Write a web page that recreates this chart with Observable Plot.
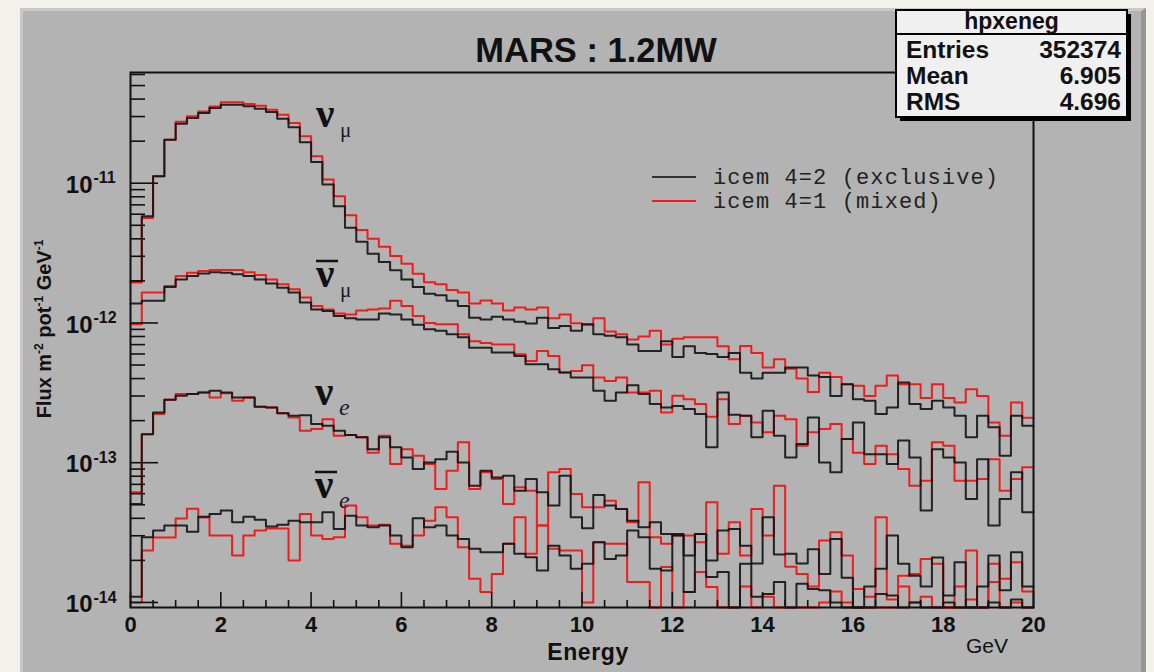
<!DOCTYPE html>
<html>
<head>
<meta charset="utf-8">
<script src="https://cdn.jsdelivr.net/npm/d3@7"></script>
<script src="https://cdn.jsdelivr.net/npm/@observablehq/plot@0.6"></script>
<style>
  html, body { margin: 0; padding: 0; background: #f4f1ec; }
  #page { position: relative; width: 1154px; height: 672px; overflow: hidden; }
  #panel {
    position: absolute; left: 20px; top: 8px; width: 1126px; height: 664px;
    background: #b3b3b3; box-sizing: border-box;
    border-left: 3px solid #c9c9c9; border-top: 3px solid #c9c9c9; border-right: 5px solid #959595;
  }
  #page svg { position: absolute; left: 0; top: 0; }
</style>
</head>
<body>
<div id="page"><div id="panel"></div></div>
<script>
// Energy binning of the histograms: 80 bins of 0.25 GeV from 0 to 20 GeV
const binWidth = 0.25;

// Flux per bin, in units of 1e-14 m^-2 pot^-1 GeV^-1 (0 = empty bin)
const numuExclusive = [200, 581, 1122, 2051, 2669, 2929, 3179, 3452, 3648, 3648, 3548, 3415, 3233, 2899, 2512, 1963, 1420, 978, 685, 480, 381, 313, 273, 238, 205, 181, 162,
  158, 144, 132, 109, 106, 111, 106, 102, 99, 109, 92, 95, 88, 98, 83, 81, 79, 70, 63, 63, 74, 57, 68, 61, 60, 57,
  61, 44, 40, 44, 44, 48, 48, 42, 41, 30, 36.5, 28.5, 27.7, 22.3, 24.8, 37.5, 26.3, 24.2, 27.7, 24.8, 21.7, 15.2, 21.7, 17.9, 11.2, 21.7, 18.4];
const numuMixed = [195, 565, 1122, 2051, 2750, 3010, 3260, 3540, 3791, 3791, 3689, 3589, 3361, 3096, 2698, 2166, 1560, 1062, 807, 591, 462, 400, 351, 301, 265, 225, 196,
  189, 172, 165, 138, 145, 138, 123, 129, 125, 129, 108, 115, 99.5, 97, 108, 87, 83, 76, 80, 88, 70, 77, 79, 79, 79, 68,
  55, 68.5, 61, 48, 55, 47, 40, 32, 44, 41, 36.5, 35.5, 30, 35.5, 42, 36.5, 36.5, 29, 36.5, 29, 27, 33.6, 30, 19.4, 15.6, 27, 21];

const numubarExclusive = [138, 144, 144, 181, 205, 217, 226, 231, 229, 223, 217, 205, 192, 179, 165, 140, 125, 122, 112, 108, 106, 106, 117, 115, 106, 97, 90,
  88, 83, 79, 66.6, 66.6, 61.4, 61.4, 58.1, 50.7, 50.7, 46.7, 44.2, 40.7, 40.7, 32.7, 27.7, 31.8, 35.9, 31, 26.3, 24.8, 25.5, 24.2, 22.3, 12.9, 31.8,
  22, 21.7, 15.2, 23.5, 15.6, 10.9, 13.6, 21.1, 10.05, 8.53, 14.8, 19.4, 11.5, 11.5, 9.78, 14.4, 10.9, 4.54, 12.5, 10.9, 10.05, 5.5, 10.6, 3.55, 5.5, 8.53, 4.42];
const numubarMixed = [98, 165, 165, 184, 217, 229, 235, 239, 239, 239, 231, 220, 205, 189, 174, 152, 132, 125, 117, 115, 123, 125, 127, 144, 132, 112, 100,
  98, 98, 83, 74, 72, 70, 70, 59.7, 53.5, 63.1, 58.1, 44.2, 45.4, 49.9, 40.7, 38.5, 40.7, 31.8, 31.8, 32.7, 22.9, 30.1, 28.5, 26.3, 21.3, 28.5,
  18.9, 21.7, 19.4, 16.5, 21.7, 20.5, 13.2, 16.5, 17.4, 18.9, 14.8, 11.8, 9.78, 13.2, 11.5, 9.02, 6.85, 7.44, 14.0, 13.2, 7.44, 7.44, 7.65, 10.6, 6.31, 7.65, 9.26];

const nueExclusive = [5.07, 16.0, 22.9, 28.2, 30.1, 31.0, 31.8, 32.7, 31.8, 29.3, 29.3, 25.1, 24.8, 22.6, 21.7, 21.9, 18.9, 18.4, 16.9, 15.8, 15.2, 12.5, 15.2, 12.9, 10.9, 9.02, 10.05,
  10.6, 12.0, 10.05, 6.85, 8.77, 7.85, 8.07, 6.31, 7.65, 6.14, 4.93, 8.07, 4.07, 3.40, 5.88, 4.93, 4.67, 3.85, 3.45, 3.75, 3.09, 3.01, 2.17, 3.09, 2.0, 3.27,
  3.36, 2.55, 1.9, 4.07, 2.2, 2.23, 1.9, 2.4, 1.6, 2.85, 1.5, 0, 1.3, 1.74, 3.01, 1.89, 1.55, 1.3, 2.1, 1.12, 1.94, 0, 1.3, 2.17, 1.22, 2.29, 1.3];
const nueMixed = [6.14, 16.0, 22.3, 28.2, 31.0, 31.0, 31.8, 29.3, 31.4, 27.7, 29.3, 25.1, 24.8, 22.6, 21.1, 16.9, 17.4, 20.5, 15.6, 15.8, 15.2, 11.8, 15.6, 9.78, 12.5, 11.2, 9.78,
  6.49, 8.77, 14.0, 6.49, 8.53, 7.65, 5.07, 6.66, 6.31, 3.55, 8.53, 9.02, 5.98, 4.80, 4.80, 5.35, 4.67, 3.75, 7.24, 2.93, 2.63, 3.01, 3.01, 2.70, 5.21, 2.23,
  3.75, 2.17, 4.67, 3.01, 6.85, 1.8, 1.6, 1.3, 2.77, 3.18, 2.17, 1.25, 1.1, 4.07, 1.05, 1.55, 1.6, 2.05, 1.89, 0, 1.3, 2.35, 0, 1.89, 1.48, 1.94, 1.2];

const nuebarExclusive = [1.1, 2.93, 3.27, 3.55, 3.55, 3.2, 4.1, 4.3, 4.54, 3.75, 4.1, 3.9, 3.5, 3.6, 3.85, 3.75, 3.75, 4.42, 3.36, 4.18, 3.55, 3.45, 3.55, 3.01, 2.48, 4.00, 3.45,
  3.55, 3.01, 2.85, 2.42, 2.29, 2.29, 2.63, 2.23, 2.11, 1.69, 2.55, 2.17, 1.74, 1.89, 2.70, 2.05, 2.17, 3.27, 2.93, 1.74, 1.69, 3.09, 1.19, 3.09, 1.52, 1.65,
  0, 1.89, 1.1, 1.15, 1.40, 0, 1.36, 1.25, 1.22, 1.0, 0, 0, 0, 1.15, 1.12, 0, 1.0, 0, 0, 1.0, 0, 0, 0, 1.0, 0, 1.05, 0];
const nuebarMixed = [1.0, 2.35, 2.91, 2.91, 3.98, 4.69, 4.05, 3.01, 3.01, 2.17, 3.01, 3.27, 3.38, 3.38, 2.0, 4.30, 3.01, 2.85, 2.93, 4.93, 4.07, 3.55, 3.59, 2.63, 2.55, 3.01, 3.85,
  4.80, 4.07, 2.48, 1.48, 1.19, 1.60, 2.63, 4.07, 2.23, 3.55, 2.42, 2.35, 2.35, 1.0, 2.70, 2.63, 2.63, 1.40, 1.40, 0, 1.79, 0, 1.19, 1.65, 1.29, 0,
  0, 1.3, 0, 1.1, 0, 0, 0, 0, 1.0, 1.2, 1.0, 0, 0, 0, 0, 1.3, 1.0, 1.1, 0, 0, 0, 1.05, 0, 1.4, 0, 1.0, 0];

const fluxUnit = 1e-14;

// Axis ticks and labels
const xTickValues = [0, 2, 4, 6, 8, 10, 12, 14, 16, 18, 20];
const yDecades = [1e-14, 1e-13, 1e-12, 1e-11];
const yExponents = ["-14", "-13", "-12", "-11"];

// Histogram series: species x ICEM setting
const series = [
  {species: "numu", sample: "mixed", values: numuMixed},
  {species: "numubar", sample: "mixed", values: numubarMixed},
  {species: "nue", sample: "mixed", values: nueMixed},
  {species: "nuebar", sample: "mixed", values: nuebarMixed},
  {species: "numu", sample: "exclusive", values: numuExclusive},
  {species: "numubar", sample: "exclusive", values: numubarExclusive},
  {species: "nue", sample: "exclusive", values: nueExclusive},
  {species: "nuebar", sample: "exclusive", values: nuebarExclusive}
];

// Vertical range of the pad (log axis)
const yFloor = 9.2e-15, yCeil = 6.2e-11;

// Step outline: one point per bin edge, the last bin closed at 20 GeV.
// Empty bins rest on the frame floor, as ROOT draws them on a log axis.
const rows = [];
for (const s of series) {
  const n = s.values.length;
  for (let i = 0; i <= n; i++) {
    const raw = s.values[Math.min(i, n - 1)];
    rows.push({
      key: s.species + "-" + s.sample,
      sample: s.sample,
      e: i * binWidth,
      flux: raw > 0 ? raw * fluxUnit : yFloor
    });
  }
}

// Minor ticks: every 0.5 GeV, and 2..9 x each decade
const xMinor = d3.range(0, 20.01, 0.5).filter(v => v % 2 !== 0);
const yMinor = [];
for (let k = -15; k <= -11; k++) for (let m = 2; m <= 9; m++) {
  const v = m * Math.pow(10, k);
  if (v > yFloor && v < yCeil) yMinor.push(v);
}

const W = 1154, H = 672, mL = 130, mR = 121, mT = 72, mB = 65;
const frameW = W - mL - mR, frameH = H - mT - mB;
const ink = "#111";
const sans = "Liberation Sans, Arial, sans-serif";

const chart = Plot.plot({
  width: W, height: H,
  marginLeft: mL, marginRight: mR, marginTop: mT, marginBottom: mB,
  style: {background: "transparent", overflow: "visible"},
  x: {domain: [0, 20], axis: null},
  y: {type: "log", domain: [yFloor, yCeil], axis: null},
  marks: [
    Plot.line(rows.filter(d => d.sample === "mixed"), {
      x: "e", y: "flux", z: "key", curve: "step-after",
      stroke: "#f01c1c", strokeWidth: 2
    }),
    Plot.line(rows.filter(d => d.sample === "exclusive"), {
      x: "e", y: "flux", z: "key", curve: "step-after",
      stroke: "#121212", strokeWidth: 2, strokeOpacity: 0.9
    }),
    Plot.ruleX(xMinor, {x: d => d, insetTop: frameH - 7, stroke: ink, strokeWidth: 1.6}),
    Plot.ruleX(xTickValues, {x: d => d, insetTop: frameH - 15, stroke: ink, strokeWidth: 1.6}),
    Plot.ruleY(yMinor, {y: d => d, insetRight: frameW - 15, stroke: ink, strokeWidth: 1.6}),
    Plot.ruleY(yDecades, {y: d => d, insetRight: frameW - 28, stroke: ink, strokeWidth: 1.6}),
    Plot.frame({stroke: ink, strokeWidth: 2}),
    Plot.text(xTickValues, {
      x: d => d, frameAnchor: "bottom", lineAnchor: "top", dy: 9,
      text: d => String(d), fontSize: 22, fontWeight: "bold", fill: ink, fontFamily: sans
    }),
    Plot.text(yDecades, {
      y: d => d, frameAnchor: "left", text: () => "10", textAnchor: "end",
      dx: -38, dy: 2, fontSize: 24, fontWeight: "bold", fill: ink, fontFamily: sans
    }),
    Plot.text(yDecades, {
      y: d => d, frameAnchor: "left", text: (d, i) => yExponents[i], textAnchor: "start",
      dx: -37, dy: -5, fontSize: 16, fontWeight: "bold", fill: ink, fontFamily: sans
    })
  ]
});
document.getElementById("page").appendChild(chart);

// Pad decorations: title, axis titles, species labels, legend and stats box
const ov = d3.select("#page").append("svg").attr("width", W).attr("height", H);

ov.append("text").attr("x", 596).attr("y", 62).attr("text-anchor", "middle")
  .attr("font-family", sans).attr("font-weight", "bold").attr("font-size", 34.5).attr("fill", ink)
  .text("MARS : 1.2MW");

ov.append("text").attr("x", 588).attr("y", 660).attr("text-anchor", "middle")
  .attr("font-family", sans).attr("font-weight", "bold").attr("font-size", 23)
  .attr("letter-spacing", 0.6).attr("fill", ink)
  .text("Energy");
ov.append("text").attr("x", 987).attr("y", 653).attr("text-anchor", "middle")
  .attr("font-family", sans).attr("font-size", 21).attr("fill", ink)
  .text("GeV");

const yl = ov.append("text").attr("transform", "translate(51,329) rotate(-90)")
  .attr("text-anchor", "middle").attr("font-family", sans).attr("font-weight", "bold")
  .attr("font-size", 20).attr("fill", ink);
yl.append("tspan").text("Flux m");
yl.append("tspan").attr("dy", -8).attr("font-size", 12).text("-2");
yl.append("tspan").attr("dy", 8).text(" pot");
yl.append("tspan").attr("dy", -8).attr("font-size", 12).text("-1");
yl.append("tspan").attr("dy", 8).text(" GeV");
yl.append("tspan").attr("dy", -8).attr("font-size", 12).text("-1");

// Species labels
const serif = "Liberation Serif, Times New Roman, serif";
const species = [
  {x: 316, y: 127, sub: "μ", italic: false, bar: false},
  {x: 316, y: 287, sub: "μ", italic: false, bar: true},
  {x: 315, y: 405, sub: "e", italic: true, bar: false},
  {x: 315, y: 498, sub: "e", italic: true, bar: true}
];
for (const s of species) {
  ov.append("text").attr("x", s.x).attr("y", s.y)
    .attr("font-family", serif).attr("font-weight", "bold").attr("font-size", 41).attr("fill", ink)
    .text("ν");
  ov.append("text").attr("x", s.x + 24).attr("y", s.y + 10)
    .attr("font-family", serif).attr("font-size", s.italic ? 24 : 21)
    .attr("font-style", s.italic ? "italic" : "normal").attr("fill", "#1a1a2a")
    .text(s.sub);
  if (s.bar) {
    ov.append("line").attr("x1", s.x).attr("x2", s.x + 22)
      .attr("y1", s.y - 26).attr("y2", s.y - 26)
      .attr("stroke", ink).attr("stroke-width", 2.5);
  }
}

// Legend
const legend = [
  {label: "icem 4=2 (exclusive)", color: "#333", y: 177},
  {label: "icem 4=1 (mixed)", color: "#f01c1c", y: 201}
];
for (const l of legend) {
  ov.append("line").attr("x1", 652).attr("x2", 696).attr("y1", l.y).attr("y2", l.y)
    .attr("stroke", l.color).attr("stroke-width", 2.2);
  ov.append("text").attr("x", 713).attr("y", l.y + 7)
    .attr("font-family", "Liberation Mono, Courier New, monospace").attr("font-size", 22)
    .attr("letter-spacing", 1.1).attr("fill", "#222")
    .text(l.label);
}

// Stats box
const bx = 896, by = 10, bw = 231, bh = 107;
ov.append("rect").attr("x", bx + 4).attr("y", by + 4).attr("width", bw).attr("height", bh).attr("fill", "#000");
ov.append("rect").attr("x", bx).attr("y", by).attr("width", bw).attr("height", bh)
  .attr("fill", "#f0f0f0").attr("stroke", "#000").attr("stroke-width", 2);
ov.append("line").attr("x1", bx).attr("x2", bx + bw).attr("y1", by + 24).attr("y2", by + 24)
  .attr("stroke", "#000").attr("stroke-width", 2);
ov.append("text").attr("x", bx + bw / 2).attr("y", by + 19).attr("text-anchor", "middle")
  .attr("font-family", sans).attr("font-weight", "bold").attr("font-size", 23).attr("fill", ink)
  .text("hpxeneg");
const statNames = ["Entries", "Mean", "RMS"];
const statValues = ["352374", "6.905", "4.696"];
statNames.forEach((name, i) => {
  const y = by + 48 + i * 26;
  ov.append("text").attr("x", bx + 10).attr("y", y)
    .attr("font-family", sans).attr("font-weight", "bold").attr("font-size", 24.5).attr("fill", ink)
    .text(name);
  ov.append("text").attr("x", bx + bw - 6).attr("y", y).attr("text-anchor", "end")
    .attr("font-family", sans).attr("font-weight", "bold").attr("font-size", 24.5).attr("fill", ink)
    .text(statValues[i]);
});
</script>
</body>
</html>
